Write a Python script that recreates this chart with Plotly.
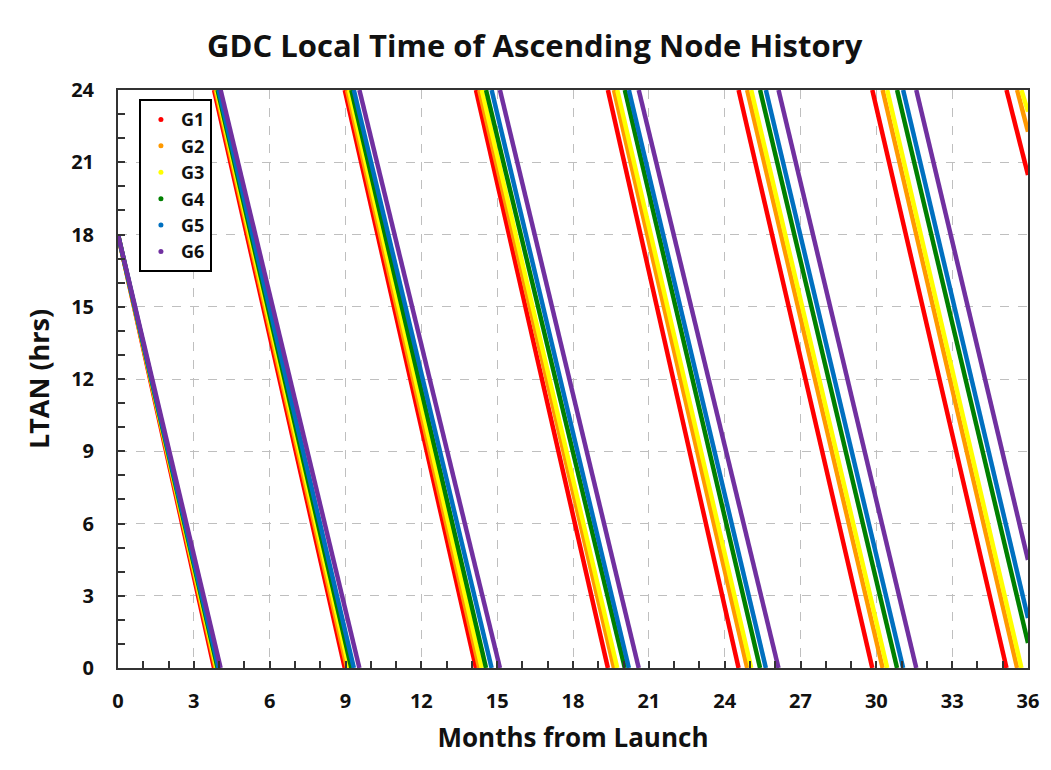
import plotly.graph_objects as go

# Months at which each satellite's LTAN wraps from 0 hrs back to 24 hrs
names = ["G1", "G2", "G3", "G4", "G5", "G6"]
colors = ["#FF0000", "#FF9900", "#FFFF00", "#008000", "#0070C0", "#7030A0"]
start_ltan = 18.0
g1_wraps = [3.80, 8.97, 14.16, 19.38, 24.55, 29.84, 35.15]
g2_wraps = [3.86, 9.06, 14.29, 19.62, 24.89, 30.25, 35.57]
g3_wraps = [3.90, 9.14, 14.39, 19.75, 25.05, 30.43, 35.74]
g4_wraps = [3.94, 9.23, 14.56, 20.05, 25.40, 30.82]
g5_wraps = [3.98, 9.33, 14.78, 20.21, 25.63, 31.06]
g6_wraps = [4.06, 9.55, 15.11, 20.60, 26.13, 31.58]
end_ltan = [20.47, 22.27, 23.10, 1.04, 2.08, 4.49]
end_month = 36
wraps = [g1_wraps, g2_wraps, g3_wraps, g4_wraps, g5_wraps, g6_wraps]

FONT = "Open Sans"
INK = "#111111"
fig = go.Figure()

for name, col, w, e in zip(names, colors, wraps, end_ltan):
    xs = [0, w[0]]
    ys = [start_ltan, 0]
    for a, b in zip(w[:-1], w[1:]):
        xs += [None, a, b]
        ys += [None, 24, 0]
    xs += [None, w[-1], end_month]
    ys += [None, 24, e]
    fig.add_trace(go.Scatter(x=xs, y=ys, mode="lines", line=dict(color=col, width=4.5),
                             showlegend=False, hoverinfo="skip"))

for name, col in zip(names, colors):
    fig.add_trace(go.Scatter(x=[None], y=[None], mode="markers", name=f"<b>{name}</b>",
                             marker=dict(color=col, size=5)))

axis_common = dict(
    showline=True, linecolor="#333333", linewidth=2, mirror=True,
    ticks="inside", ticklen=7, tickcolor="#333333", tickwidth=1.5,
    showgrid=True, gridcolor="#BFBFBF", griddash="dash", gridwidth=1.2,
    zeroline=False,
    tickfont=dict(family=FONT, size=20, color=INK),
    minor=dict(dtick=1, ticks="inside", ticklen=7, tickcolor="#333333", showgrid=False),
    tickprefix="<b>", ticksuffix="</b>",
)

fig.update_xaxes(range=[0, 36], dtick=3, tick0=0, ticklabelstandoff=14,
                 title=dict(text="<b>Months from Launch</b>", font=dict(family=FONT, size=26, color=INK), standoff=16),
                 **axis_common)
fig.update_yaxes(range=[0, 24], dtick=3, tick0=0, ticklabelstandoff=18,
                 title=dict(text="<b>LTAN (hrs)</b>", font=dict(family=FONT, size=27, color=INK), standoff=14),
                 **axis_common)

fig.update_layout(
    width=1043, height=762,
    margin=dict(l=110, r=15, t=82, b=102),
    paper_bgcolor="white", plot_bgcolor="white",
    title=dict(text="<b>GDC Local Time of Ascending Node History</b>", x=0.505, xanchor="center",
               y=0.950, yanchor="middle", font=dict(family=FONT, size=31, color=INK)),
    legend=dict(x=0.023, y=0.984, xanchor="left", yanchor="top", bgcolor="white",
                bordercolor="black", borderwidth=2, font=dict(family=FONT, size=18, color=INK),
                itemwidth=30, tracegroupgap=0),
)

fig.write_html("out.html")
